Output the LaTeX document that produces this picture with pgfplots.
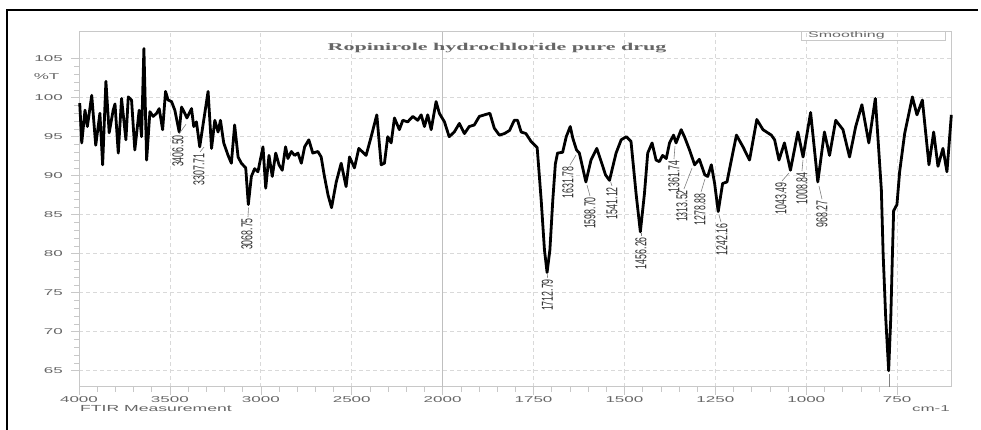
\documentclass[border=0pt]{standalone}
\usepackage{pgfplots}
\usepackage{pgfplotstable}
\pgfplotsset{compat=1.18}
\usepackage{fontspec}
\setmainfont{Liberation Sans}
\newfontfamily\seriffont{Liberation Serif}
\definecolor{txtgray}{HTML}{666666}
\definecolor{axgray}{HTML}{C8C8C8}
\definecolor{gridgray}{HTML}{D9D9D9}
\definecolor{lblgray}{HTML}{333333}
\pgfplotstableread{
w T
3996 99.3
3985 94.2
3967 98.4
3954 96.3
3930 100.3
3908 93.9
3885 98.0
3870 91.4
3852 102.1
3834 95.5
3812 98.4
3802 99.2
3784 92.9
3766 99.9
3742 94.6
3729 100.1
3711 99.7
3693 93.3
3669 98.4
3656 95.0
3643 106.3
3628 92.0
3610 98.2
3592 97.6
3573 98.0
3559 98.6
3540 95.9
3524 100.8
3510 99.7
3491 99.5
3473 98.4
3449 95.6
3436 98.8
3418 98.0
3406.5 97.4
3381 98.6
3369 96.3
3354 96.9
3336 93.7
3318 96.5
3290 100.8
3271 93.5
3253 97.1
3235 95.6
3222 97.1
3204 94.2
3180 92.6
3162 91.6
3144 96.5
3125 92.4
3107 91.6
3083 91.0
3068.75 86.3
3052 89.9
3034 90.9
3016 90.5
2988 93.7
2973 88.4
2955 92.6
2937 89.9
2918 92.9
2900 91.4
2882 90.7
2864 93.7
2851 92.2
2832 93.1
2814 92.6
2796 92.9
2777 91.6
2759 93.7
2736 94.6
2714 92.9
2686 93.1
2668 92.4
2650 89.9
2630 87.5
2611 85.9
2585 89.2
2558 91.6
2531 88.6
2512 92.4
2485 91.0
2461 93.5
2421 92.6
2393 95.0
2362 97.8
2338 91.4
2320 91.6
2302 95.0
2283 94.2
2265 97.4
2238 95.9
2219 97.1
2192 96.9
2164 97.6
2137 97.1
2118 97.8
2100 96.3
2082 97.8
2063 95.9
2036 99.5
2018 98.0
1995 96.9
1982 95.0
1968 95.6
1954 96.7
1940 95.4
1927 96.3
1913 96.5
1899 97.6
1885 97.8
1870 98.0
1858 96.1
1844 95.2
1830 95.4
1816 95.8
1803 97.1
1794 97.1
1784 95.6
1771 95.4
1757 94.4
1740 93.6
1729 86.9
1720 80.5
1712.79 77.6
1705 80.5
1697 86.9
1690 91.5
1684 92.9
1670 93.0
1660 95.0
1649 96.3
1642 94.8
1631.78 93.3
1624 92.9
1606 89.2
1592 92.0
1576 93.5
1561 91.4
1552 90.1
1541.12 89.4
1523 92.9
1509 94.6
1495 95.0
1482 94.4
1468 87.7
1456.26 82.8
1445 87.7
1436 92.9
1424 94.2
1413 92.0
1404 91.8
1395 92.6
1385 92.2
1376 94.2
1365 95.2
1358 94.2
1344 95.9
1335 95.0
1321 93.3
1307 91.4
1294 92.1
1279 90.1
1271 89.9
1261 91.4
1252 89.0
1242.16 85.4
1230 89.0
1218 89.2
1206 92.0
1192 95.2
1174 93.7
1156 92.0
1136 97.2
1119 95.9
1096 95.2
1087 94.6
1075 92.0
1060 94.2
1043.49 90.7
1023 95.6
1008.84 92.4
988 98.1
968.27 89.2
950 95.6
936 92.6
919 97.1
899 95.9
881 92.4
864 96.3
847 99.1
828 94.2
810 99.9
793.5 88.2
788.6 80
781.7 72
773.4 65.0
767.4 72
763 80
759.7 85.5
750.6 86.3
743.2 90.5
729.4 95.4
708.2 100.1
695.6 97.8
680.7 99.7
662.6 91.4
649.6 95.6
637.8 91.2
624.1 93.5
613.1 90.5
601 97.8
}\spectrum
\newcommand{\pk}[3]{\node[rotate=90, anchor=east, inner sep=0pt, font=\fontsize{8.8}{10}\selectfont, text=lblgray] at (axis cs:#1,#2) {\scalebox{1}[1.8]{#3}};}
\newcommand{\ld}[4]{\draw[draw=gray, line width=0.6pt] (axis cs:#1,#2) -- (axis cs:#3,#4);}
\newcommand{\sx}[1]{\scalebox{2}[1]{#1}}
\begin{document}
\begin{tikzpicture}[x=1pt,y=1pt]
\useasboundingbox (0,0) rectangle (981,430);
\begin{axis}[
  at={(79pt,43.3pt)}, anchor=south west,
  scale only axis, width=872.7pt, height=355pt,
  xmin=0, xmax=2400, ymin=62.95, ymax=108.46,
  x filter/.expression={x>1999.999 ? (4000-x)/2 : 3000-x},
  xtick={0,250,...,2250},
  xticklabels={\sx{4000},\sx{3500},\sx{3000},\sx{2500},\sx{2000},\sx{1750},\sx{1500},\sx{1250},\sx{1000},\sx{750}},
  ytick={65,70,...,105},
  yticklabels={\sx{65},\sx{70},\sx{75},\sx{80},\sx{85},\sx{90},\sx{95},\sx{100},\sx{105}},
  minor x tick num=4, minor y tick num=4,
  tick pos=left, tick align=outside,
  major tick length=8pt, minor tick length=5pt,
  tick style={draw=axgray, line width=0.6pt},
  axis line style={draw=axgray, line width=0.8pt},
  grid=major,
  major grid style={draw=gridgray, line width=0.7pt, dash pattern=on 4pt off 3pt},
  xticklabel style={yshift=-1.3pt, font=\fontsize{8.5}{10}\selectfont, text=txtgray, inner sep=0pt, anchor=north},
  yticklabel style={xshift=-8pt, font=\fontsize{8.5}{10}\selectfont, text=txtgray, inner sep=0pt, anchor=east},
  clip=false,
]
\draw[draw=black!25, line width=1.6pt] (axis cs:1000,62.95) -- (axis cs:1000,108.46);
\addplot[black, line width=2.8pt, line join=round, mark=none] table[x=w, y=T] {\spectrum};
\ld{294.3}{96.6}{275}{95.35}\pk{272.3}{95.22}{3406.50}
\ld{343.8}{93.67}{332.75}{93.04}\pk{330}{92.9}{3307.71}
\ld{466.1}{85.92}{464.75}{84.7}\pk{462}{84.58}{3068.75}
\ld{1288.9}{77.4}{1288.1}{76.9}\pk{1288.1}{76.76}{1712.79}
\ld{1366.75}{92.65}{1350.25}{91.37}\pk{1344.75}{91.24}{1631.78}
\ld{1397}{88.8}{1405.25}{87.4}\pk{1405.25}{87.27}{1598.70}
\ld{1462.2}{89.2}{1465.75}{88.7}\pk{1465.75}{88.55}{1541.12}
\ld{1545.5}{82.65}{1545.5}{82.25}\pk{1545.5}{82.14}{1456.26}
\ld{1639}{93.8}{1636.25}{92.14}\pk{1636.25}{92.01}{1361.74}
\ld{1685.75}{90.96}{1663.75}{88.3}\pk{1658.25}{88.17}{1313.52}
\ld{1721.5}{89.58}{1710.5}{87.9}\pk{1707.75}{87.78}{1278.88}
\ld{1760}{84.96}{1765.5}{84.06}\pk{1768.25}{83.88}{1242.16}
\ld{1952.5}{90.35}{1933.25}{89.32}\pk{1930.5}{89.19}{1043.49}
\ld{1991}{92.01}{1988.25}{90.6}\pk{1988.25}{90.47}{1008.84}
\ld{2035}{88.68}{2043.25}{87.0}\pk{2043.25}{86.88}{968.27}
\ld{2227.5}{64.58}{2227.5}{62.95}
\end{axis}
\draw[line width=2.6pt] (7,0) -- (7,420) -- (978,420);
\node[font=\seriffont\bfseries\fontsize{10.5}{12}\selectfont, text=txtgray, inner sep=0pt] at (497,382) {\scalebox{2.1}[1]{Ropinirole hydrochloride pure drug}};
\node[font=\fontsize{8.5}{10}\selectfont, text=txtgray, inner sep=0pt] at (46.5,353) {\sx{\%T}};
\node[anchor=west, font=\fontsize{8.8}{10}\selectfont, text=txtgray, inner sep=0pt] at (80,21.5) {\sx{FTIR Measurement}};
\node[anchor=east, font=\fontsize{8.5}{10}\selectfont, text=txtgray, inner sep=0pt] at (950,21.5) {\sx{cm-1}};
\draw[draw=axgray, line width=0.7pt] (801.7,390) rectangle (945,398.3);
\node[anchor=west, font=\fontsize{8}{9}\selectfont, text=txtgray, inner sep=0pt] at (808,394.2) {\sx{Smoothing}};
\end{tikzpicture}
\end{document}
